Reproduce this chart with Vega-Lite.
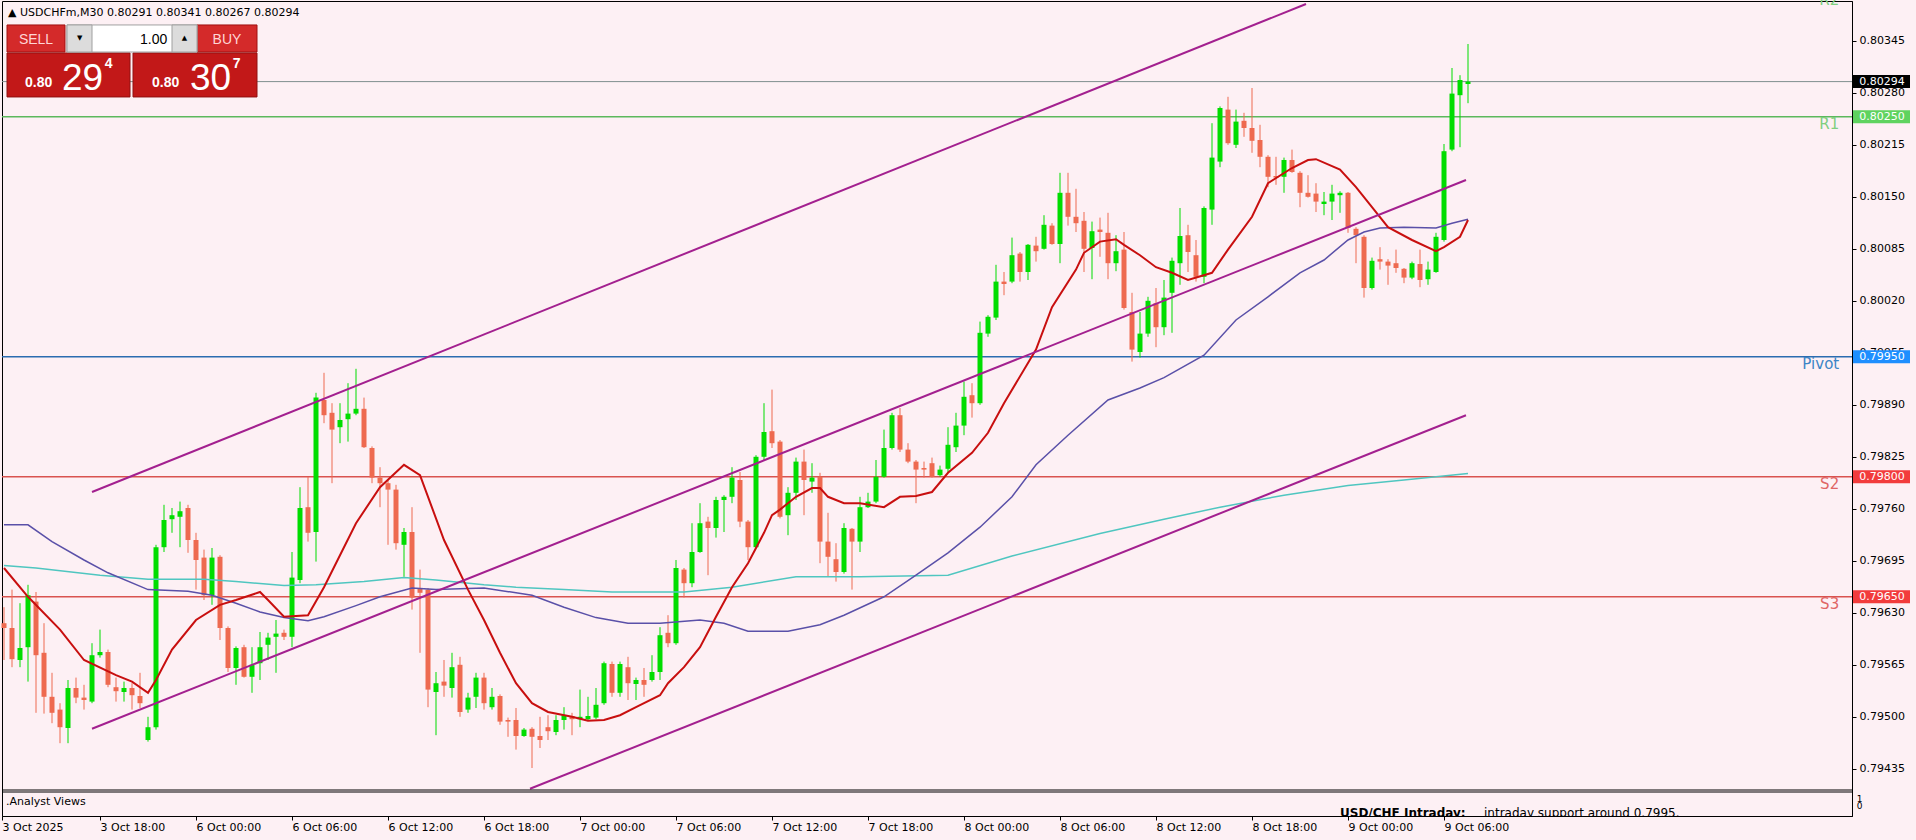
{
"$schema": "https://vega.github.io/schema/vega-lite/v6.json",
"autosize": {"type": "none"},
"width": 1850,
"height": 815,
"padding": {"left": 2, "top": 1, "right": 64, "bottom": 24},
"background": "#fdf0f4",
"config": {"view": {"stroke": "#000000", "strokeWidth": 1}, "font": "DejaVu Sans", "scale": {"continuousPadding": 0}},
"resolve": {"scale": {"color": "independent"}},
"datasets": {
"candles": [
{"i":0,"o":0.79617,"h":0.79637,"l":0.79571,"c":0.79611},
{"i":1,"o":0.79611,"h":0.79659,"l":0.79562,"c":0.79572},
{"i":2,"o":0.79571,"h":0.79642,"l":0.79562,"c":0.79586},
{"i":3,"o":0.79587,"h":0.79665,"l":0.79544,"c":0.79652},
{"i":4,"o":0.79644,"h":0.79656,"l":0.79505,"c":0.79577},
{"i":5,"o":0.7958,"h":0.79617,"l":0.79504,"c":0.79525},
{"i":6,"o":0.79525,"h":0.79555,"l":0.79492,"c":0.79505},
{"i":7,"o":0.79509,"h":0.79517,"l":0.79467,"c":0.79487},
{"i":8,"o":0.79486,"h":0.79546,"l":0.79467,"c":0.79536},
{"i":9,"o":0.79536,"h":0.79549,"l":0.79517,"c":0.79524},
{"i":10,"o":0.79524,"h":0.7954,"l":0.79509,"c":0.79521},
{"i":11,"o":0.79519,"h":0.79592,"l":0.79517,"c":0.79577},
{"i":12,"o":0.79577,"h":0.79609,"l":0.79574,"c":0.79581},
{"i":13,"o":0.79581,"h":0.79584,"l":0.79537,"c":0.7954},
{"i":14,"o":0.79537,"h":0.79549,"l":0.79519,"c":0.79532},
{"i":15,"o":0.79531,"h":0.79544,"l":0.79519,"c":0.79536},
{"i":16,"o":0.79536,"h":0.79542,"l":0.79509,"c":0.79527},
{"i":17,"o":0.79526,"h":0.79555,"l":0.79511,"c":0.79517},
{"i":18,"o":0.79471,"h":0.795,"l":0.79469,"c":0.79487},
{"i":19,"o":0.79487,"h":0.79715,"l":0.79484,"c":0.79712},
{"i":20,"o":0.79712,"h":0.79765,"l":0.79706,"c":0.79746},
{"i":21,"o":0.79747,"h":0.79761,"l":0.7973,"c":0.79752},
{"i":22,"o":0.7975,"h":0.79769,"l":0.79712,"c":0.79757},
{"i":23,"o":0.79761,"h":0.79765,"l":0.79705,"c":0.79721},
{"i":24,"o":0.79721,"h":0.7973,"l":0.79659,"c":0.79696},
{"i":25,"o":0.79699,"h":0.79709,"l":0.79646,"c":0.79652},
{"i":26,"o":0.79652,"h":0.79711,"l":0.7964,"c":0.79699},
{"i":27,"o":0.797,"h":0.79702,"l":0.79596,"c":0.79611},
{"i":28,"o":0.79611,"h":0.79613,"l":0.79556,"c":0.79561},
{"i":29,"o":0.79561,"h":0.79588,"l":0.7954,"c":0.79586},
{"i":30,"o":0.79587,"h":0.7959,"l":0.79549,"c":0.7955},
{"i":31,"o":0.7955,"h":0.79587,"l":0.7953,"c":0.79565},
{"i":32,"o":0.79567,"h":0.79606,"l":0.79546,"c":0.79587},
{"i":33,"o":0.7959,"h":0.79605,"l":0.79571,"c":0.79599},
{"i":34,"o":0.796,"h":0.79621,"l":0.79555,"c":0.79604},
{"i":35,"o":0.79605,"h":0.79609,"l":0.79596,"c":0.796},
{"i":36,"o":0.796,"h":0.79706,"l":0.79587,"c":0.79674},
{"i":37,"o":0.79671,"h":0.79787,"l":0.79667,"c":0.79761},
{"i":38,"o":0.79762,"h":0.798,"l":0.79719,"c":0.7973},
{"i":39,"o":0.79731,"h":0.79905,"l":0.79694,"c":0.79899},
{"i":40,"o":0.79896,"h":0.7993,"l":0.79867,"c":0.79877},
{"i":41,"o":0.7988,"h":0.79892,"l":0.79792,"c":0.79859},
{"i":42,"o":0.79862,"h":0.79892,"l":0.79842,"c":0.79871},
{"i":43,"o":0.79872,"h":0.79917,"l":0.79844,"c":0.79879},
{"i":44,"o":0.79879,"h":0.79935,"l":0.79877,"c":0.79885},
{"i":45,"o":0.79885,"h":0.79899,"l":0.79836,"c":0.79837},
{"i":46,"o":0.79836,"h":0.79838,"l":0.79792,"c":0.79799},
{"i":47,"o":0.79799,"h":0.79812,"l":0.79762,"c":0.79792},
{"i":48,"o":0.79792,"h":0.79796,"l":0.79715,"c":0.79784},
{"i":49,"o":0.79784,"h":0.7979,"l":0.79709,"c":0.79717},
{"i":50,"o":0.79715,"h":0.79736,"l":0.79675,"c":0.79731},
{"i":51,"o":0.79731,"h":0.79762,"l":0.79634,"c":0.79649},
{"i":52,"o":0.79661,"h":0.79684,"l":0.7958,"c":0.79655},
{"i":53,"o":0.79659,"h":0.79661,"l":0.79512,"c":0.79534},
{"i":54,"o":0.79531,"h":0.79556,"l":0.79477,"c":0.79542},
{"i":55,"o":0.79544,"h":0.79571,"l":0.79525,"c":0.79539},
{"i":56,"o":0.79536,"h":0.7958,"l":0.79524,"c":0.79562},
{"i":57,"o":0.79565,"h":0.79575,"l":0.795,"c":0.79506},
{"i":58,"o":0.79509,"h":0.7953,"l":0.79505,"c":0.79524},
{"i":59,"o":0.79525,"h":0.79555,"l":0.79511,"c":0.79549},
{"i":60,"o":0.79549,"h":0.79555,"l":0.79509,"c":0.79517},
{"i":61,"o":0.79512,"h":0.79536,"l":0.79509,"c":0.79525},
{"i":62,"o":0.79526,"h":0.79528,"l":0.7949,"c":0.79494},
{"i":63,"o":0.79496,"h":0.79499,"l":0.79475,"c":0.79494},
{"i":64,"o":0.79496,"h":0.79511,"l":0.79459,"c":0.79476},
{"i":65,"o":0.79476,"h":0.79486,"l":0.79475,"c":0.79484},
{"i":66,"o":0.79485,"h":0.79487,"l":0.79436,"c":0.79475},
{"i":67,"o":0.79476,"h":0.795,"l":0.79461,"c":0.79471},
{"i":68,"o":0.79487,"h":0.79502,"l":0.79471,"c":0.79482},
{"i":69,"o":0.79481,"h":0.79502,"l":0.79477,"c":0.79496},
{"i":70,"o":0.79496,"h":0.79512,"l":0.79484,"c":0.79502},
{"i":71,"o":0.79501,"h":0.79505,"l":0.79477,"c":0.79497},
{"i":72,"o":0.79497,"h":0.79534,"l":0.79487,"c":0.795},
{"i":73,"o":0.79497,"h":0.79525,"l":0.79496,"c":0.79501},
{"i":74,"o":0.79499,"h":0.79536,"l":0.79497,"c":0.79515},
{"i":75,"o":0.79517,"h":0.79569,"l":0.79515,"c":0.79567},
{"i":76,"o":0.79566,"h":0.79569,"l":0.79525,"c":0.7953},
{"i":77,"o":0.7953,"h":0.79569,"l":0.79525,"c":0.79566},
{"i":78,"o":0.79562,"h":0.79575,"l":0.79521,"c":0.79542},
{"i":79,"o":0.79541,"h":0.79549,"l":0.79521,"c":0.79546},
{"i":80,"o":0.79546,"h":0.79561,"l":0.79525,"c":0.7954},
{"i":81,"o":0.79546,"h":0.79577,"l":0.79544,"c":0.79556},
{"i":82,"o":0.79556,"h":0.79612,"l":0.79546,"c":0.79602},
{"i":83,"o":0.79605,"h":0.79627,"l":0.79587,"c":0.79592},
{"i":84,"o":0.79592,"h":0.79696,"l":0.7959,"c":0.79686},
{"i":85,"o":0.79684,"h":0.79686,"l":0.79649,"c":0.79667},
{"i":86,"o":0.79667,"h":0.79742,"l":0.79662,"c":0.79706},
{"i":87,"o":0.79706,"h":0.79767,"l":0.79705,"c":0.79742},
{"i":88,"o":0.79744,"h":0.7975,"l":0.79677,"c":0.79736},
{"i":89,"o":0.79736,"h":0.79775,"l":0.79724,"c":0.79771},
{"i":90,"o":0.79771,"h":0.79777,"l":0.79731,"c":0.79775},
{"i":91,"o":0.79775,"h":0.79812,"l":0.79767,"c":0.79799},
{"i":92,"o":0.79796,"h":0.79806,"l":0.79737,"c":0.79744},
{"i":93,"o":0.79744,"h":0.79746,"l":0.79696,"c":0.79712},
{"i":94,"o":0.79712,"h":0.79827,"l":0.79711,"c":0.79825},
{"i":95,"o":0.79825,"h":0.79892,"l":0.79821,"c":0.79856},
{"i":96,"o":0.79857,"h":0.79909,"l":0.79836,"c":0.79842},
{"i":97,"o":0.79844,"h":0.79846,"l":0.79748,"c":0.7975},
{"i":98,"o":0.79752,"h":0.79787,"l":0.79727,"c":0.7978},
{"i":99,"o":0.7978,"h":0.79824,"l":0.79771,"c":0.79819},
{"i":100,"o":0.79819,"h":0.79834,"l":0.79752,"c":0.79796},
{"i":101,"o":0.79794,"h":0.79817,"l":0.7978,"c":0.79799},
{"i":102,"o":0.798,"h":0.79805,"l":0.79692,"c":0.79719},
{"i":103,"o":0.79719,"h":0.79755,"l":0.79675,"c":0.797},
{"i":104,"o":0.79697,"h":0.79717,"l":0.79669,"c":0.79681},
{"i":105,"o":0.79681,"h":0.79742,"l":0.79679,"c":0.79736},
{"i":106,"o":0.79735,"h":0.79736,"l":0.79659,"c":0.79719},
{"i":107,"o":0.79719,"h":0.79775,"l":0.79706,"c":0.79762},
{"i":108,"o":0.79762,"h":0.7978,"l":0.79761,"c":0.79769},
{"i":109,"o":0.79769,"h":0.79821,"l":0.79767,"c":0.798},
{"i":110,"o":0.798,"h":0.79859,"l":0.79799,"c":0.79836},
{"i":111,"o":0.79836,"h":0.7988,"l":0.79834,"c":0.79877},
{"i":112,"o":0.79877,"h":0.79886,"l":0.79831,"c":0.79834},
{"i":113,"o":0.79834,"h":0.79842,"l":0.79817,"c":0.79819},
{"i":114,"o":0.79819,"h":0.79821,"l":0.79767,"c":0.79809},
{"i":115,"o":0.79811,"h":0.79819,"l":0.79799,"c":0.79809},
{"i":116,"o":0.79817,"h":0.79824,"l":0.79799,"c":0.798},
{"i":117,"o":0.79802,"h":0.79814,"l":0.798,"c":0.79809},
{"i":118,"o":0.7981,"h":0.79862,"l":0.79806,"c":0.7984},
{"i":119,"o":0.79837,"h":0.7988,"l":0.79831,"c":0.79864},
{"i":120,"o":0.79864,"h":0.79919,"l":0.79852,"c":0.799},
{"i":121,"o":0.79902,"h":0.79917,"l":0.79874,"c":0.79892},
{"i":122,"o":0.79892,"h":0.79994,"l":0.7989,"c":0.7998},
{"i":123,"o":0.79979,"h":0.80002,"l":0.79975,"c":0.8},
{"i":124,"o":0.79999,"h":0.80065,"l":0.79996,"c":0.80044},
{"i":125,"o":0.80044,"h":0.80056,"l":0.80027,"c":0.80041},
{"i":126,"o":0.80044,"h":0.80099,"l":0.80042,"c":0.80077},
{"i":127,"o":0.80079,"h":0.80081,"l":0.80044,"c":0.80056},
{"i":128,"o":0.80056,"h":0.80091,"l":0.80046,"c":0.8009},
{"i":129,"o":0.80089,"h":0.801,"l":0.80069,"c":0.80082},
{"i":130,"o":0.80085,"h":0.80127,"l":0.80084,"c":0.80115},
{"i":131,"o":0.80114,"h":0.80117,"l":0.8009,"c":0.80091},
{"i":132,"o":0.80091,"h":0.8018,"l":0.80067,"c":0.80155},
{"i":133,"o":0.80155,"h":0.8018,"l":0.80114,"c":0.80125},
{"i":134,"o":0.80125,"h":0.8016,"l":0.80106,"c":0.80117},
{"i":135,"o":0.8012,"h":0.80131,"l":0.80056,"c":0.80085},
{"i":136,"o":0.80086,"h":0.80119,"l":0.80047,"c":0.80107},
{"i":137,"o":0.80109,"h":0.80124,"l":0.80075,"c":0.80106},
{"i":138,"o":0.80105,"h":0.8013,"l":0.80047,"c":0.80067},
{"i":139,"o":0.80067,"h":0.80102,"l":0.80057,"c":0.80082},
{"i":140,"o":0.80084,"h":0.80106,"l":0.80009,"c":0.80011},
{"i":141,"o":0.80006,"h":0.8003,"l":0.79944,"c":0.79959},
{"i":142,"o":0.79956,"h":0.80006,"l":0.79949,"c":0.79979},
{"i":143,"o":0.79979,"h":0.80025,"l":0.79975,"c":0.8002},
{"i":144,"o":0.80017,"h":0.80036,"l":0.79962,"c":0.79987},
{"i":145,"o":0.79987,"h":0.80046,"l":0.79977,"c":0.80024},
{"i":146,"o":0.8003,"h":0.80074,"l":0.7998,"c":0.8007},
{"i":147,"o":0.80067,"h":0.80136,"l":0.8004,"c":0.80101},
{"i":148,"o":0.80102,"h":0.80115,"l":0.80056,"c":0.80081},
{"i":149,"o":0.80077,"h":0.80096,"l":0.80044,"c":0.8005},
{"i":150,"o":0.8005,"h":0.80138,"l":0.80042,"c":0.80136},
{"i":151,"o":0.80134,"h":0.80242,"l":0.80115,"c":0.80199},
{"i":152,"o":0.80194,"h":0.80263,"l":0.80187,"c":0.80261},
{"i":153,"o":0.80259,"h":0.80275,"l":0.80215,"c":0.80217},
{"i":154,"o":0.80215,"h":0.80259,"l":0.80211,"c":0.80244},
{"i":155,"o":0.80245,"h":0.80255,"l":0.80225,"c":0.80236},
{"i":156,"o":0.80236,"h":0.80286,"l":0.80205,"c":0.8022},
{"i":157,"o":0.80221,"h":0.8024,"l":0.80187,"c":0.802},
{"i":158,"o":0.802,"h":0.80202,"l":0.80162,"c":0.80175},
{"i":159,"o":0.80176,"h":0.802,"l":0.80165,"c":0.80174},
{"i":160,"o":0.80175,"h":0.80199,"l":0.80155,"c":0.80196},
{"i":161,"o":0.80196,"h":0.80209,"l":0.8018,"c":0.80181},
{"i":162,"o":0.8018,"h":0.80182,"l":0.80137,"c":0.80155},
{"i":163,"o":0.80155,"h":0.80177,"l":0.80149,"c":0.8015},
{"i":164,"o":0.80154,"h":0.80167,"l":0.80131,"c":0.80144},
{"i":165,"o":0.80141,"h":0.80156,"l":0.80127,"c":0.80144},
{"i":166,"o":0.80144,"h":0.80165,"l":0.80121,"c":0.80154},
{"i":167,"o":0.80152,"h":0.80157,"l":0.8013,"c":0.80155},
{"i":168,"o":0.80155,"h":0.80156,"l":0.80105,"c":0.80111},
{"i":169,"o":0.8011,"h":0.80112,"l":0.80067,"c":0.80102},
{"i":170,"o":0.801,"h":0.80102,"l":0.80024,"c":0.80036},
{"i":171,"o":0.80036,"h":0.80074,"l":0.80034,"c":0.8007},
{"i":172,"o":0.80072,"h":0.80087,"l":0.80059,"c":0.80069},
{"i":173,"o":0.80069,"h":0.80072,"l":0.8004,"c":0.80064},
{"i":174,"o":0.80067,"h":0.80084,"l":0.80055,"c":0.80061},
{"i":175,"o":0.8006,"h":0.80061,"l":0.80042,"c":0.80049},
{"i":176,"o":0.80049,"h":0.80069,"l":0.80047,"c":0.80067},
{"i":177,"o":0.80066,"h":0.80084,"l":0.80037,"c":0.80046},
{"i":178,"o":0.80047,"h":0.80069,"l":0.8004,"c":0.80059},
{"i":179,"o":0.80056,"h":0.80105,"l":0.80055,"c":0.801},
{"i":180,"o":0.80096,"h":0.80216,"l":0.80094,"c":0.80207},
{"i":181,"o":0.80209,"h":0.80311,"l":0.80207,"c":0.80279},
{"i":182,"o":0.80277,"h":0.80302,"l":0.80212,"c":0.80296},
{"i":183,"o":0.80291,"h":0.80341,"l":0.80267,"c":0.80294}
],
"ma": [
{"s":"fast","i":0,"v":0.79686},{"s":"fast","i":3,"v":0.7965},{"s":"fast","i":7,"v":0.79609},{"s":"fast","i":10,"v":0.79571},{"s":"fast","i":14,"v":0.79552},{"s":"fast","i":16,"v":0.79544},{"s":"fast","i":18,"v":0.7953},{"s":"fast","i":19,"v":0.79546},{"s":"fast","i":21,"v":0.79584},{"s":"fast","i":24,"v":0.79621},{"s":"fast","i":27,"v":0.7964},{"s":"fast","i":29,"v":0.79646},{"s":"fast","i":32,"v":0.79656},{"s":"fast","i":33,"v":0.79646},{"s":"fast","i":35,"v":0.79625},{"s":"fast","i":38,"v":0.79627},{"s":"fast","i":40,"v":0.79662},{"s":"fast","i":44,"v":0.79742},{"s":"fast","i":47,"v":0.79787},{"s":"fast","i":50,"v":0.79815},{"s":"fast","i":52,"v":0.79802},{"s":"fast","i":55,"v":0.79721},{"s":"fast","i":58,"v":0.79659},{"s":"fast","i":60,"v":0.79621},{"s":"fast","i":62,"v":0.7958},{"s":"fast","i":64,"v":0.79542},{"s":"fast","i":66,"v":0.79517},{"s":"fast","i":68,"v":0.79506},{"s":"fast","i":71,"v":0.795},{"s":"fast","i":73,"v":0.79495},{"s":"fast","i":75,"v":0.79496},{"s":"fast","i":77,"v":0.79502},{"s":"fast","i":79,"v":0.79512},{"s":"fast","i":82,"v":0.79527},{"s":"fast","i":83,"v":0.79542},{"s":"fast","i":85,"v":0.79562},{"s":"fast","i":87,"v":0.79587},{"s":"fast","i":89,"v":0.79625},{"s":"fast","i":91,"v":0.79662},{"s":"fast","i":93,"v":0.79692},{"s":"fast","i":95,"v":0.7973},{"s":"fast","i":96,"v":0.79752},{"s":"fast","i":97,"v":0.79759},{"s":"fast","i":99,"v":0.79775},{"s":"fast","i":101,"v":0.79786},{"s":"fast","i":102,"v":0.79786},{"s":"fast","i":103,"v":0.79775},{"s":"fast","i":105,"v":0.79767},{"s":"fast","i":107,"v":0.79767},{"s":"fast","i":110,"v":0.79762},{"s":"fast","i":112,"v":0.79775},{"s":"fast","i":114,"v":0.79776},{"s":"fast","i":116,"v":0.79781},{"s":"fast","i":118,"v":0.79805},{"s":"fast","i":121,"v":0.7983},{"s":"fast","i":123,"v":0.79855},{"s":"fast","i":125,"v":0.79892},{"s":"fast","i":129,"v":0.79959},{"s":"fast","i":131,"v":0.80012},{"s":"fast","i":134,"v":0.80059},{"s":"fast","i":135,"v":0.8008},{"s":"fast","i":137,"v":0.80094},{"s":"fast","i":139,"v":0.80097},{"s":"fast","i":140,"v":0.8009},{"s":"fast","i":142,"v":0.80077},{"s":"fast","i":144,"v":0.80062},{"s":"fast","i":146,"v":0.80055},{"s":"fast","i":148,"v":0.80046},{"s":"fast","i":151,"v":0.80055},{"s":"fast","i":153,"v":0.80084},{"s":"fast","i":156,"v":0.80125},{"s":"fast","i":158,"v":0.80167},{"s":"fast","i":161,"v":0.80186},{"s":"fast","i":163,"v":0.80196},{"s":"fast","i":164,"v":0.80197},{"s":"fast","i":167,"v":0.80184},{"s":"fast","i":169,"v":0.80162},{"s":"fast","i":171,"v":0.80137},{"s":"fast","i":173,"v":0.80112},{"s":"fast","i":176,"v":0.80096},{"s":"fast","i":179,"v":0.80082},{"s":"fast","i":180,"v":0.80087},{"s":"fast","i":182,"v":0.801},{"s":"fast","i":183,"v":0.80121},
{"s":"mid","i":0,"v":0.7974},{"s":"mid","i":3,"v":0.7974},{"s":"mid","i":6,"v":0.79719},{"s":"mid","i":10,"v":0.79696},{"s":"mid","i":13,"v":0.7968},{"s":"mid","i":18,"v":0.79659},{"s":"mid","i":23,"v":0.79657},{"s":"mid","i":26,"v":0.79652},{"s":"mid","i":29,"v":0.79642},{"s":"mid","i":32,"v":0.79631},{"s":"mid","i":35,"v":0.79624},{"s":"mid","i":38,"v":0.7962},{"s":"mid","i":40,"v":0.79625},{"s":"mid","i":44,"v":0.79639},{"s":"mid","i":47,"v":0.7965},{"s":"mid","i":51,"v":0.79661},{"s":"mid","i":54,"v":0.79659},{"s":"mid","i":60,"v":0.79661},{"s":"mid","i":66,"v":0.79652},{"s":"mid","i":70,"v":0.79637},{"s":"mid","i":74,"v":0.79624},{"s":"mid","i":78,"v":0.79617},{"s":"mid","i":82,"v":0.79617},{"s":"mid","i":87,"v":0.79621},{"s":"mid","i":90,"v":0.79617},{"s":"mid","i":93,"v":0.79607},{"s":"mid","i":98,"v":0.79607},{"s":"mid","i":102,"v":0.79615},{"s":"mid","i":105,"v":0.79627},{"s":"mid","i":110,"v":0.7965},{"s":"mid","i":114,"v":0.79677},{"s":"mid","i":118,"v":0.79705},{"s":"mid","i":122,"v":0.79737},{"s":"mid","i":126,"v":0.79775},{"s":"mid","i":129,"v":0.79815},{"s":"mid","i":133,"v":0.79852},{"s":"mid","i":138,"v":0.79896},{"s":"mid","i":142,"v":0.79911},{"s":"mid","i":145,"v":0.79924},{"s":"mid","i":150,"v":0.79952},{"s":"mid","i":154,"v":0.79996},{"s":"mid","i":158,"v":0.80025},{"s":"mid","i":162,"v":0.80055},{"s":"mid","i":165,"v":0.80071},{"s":"mid","i":168,"v":0.80096},{"s":"mid","i":170,"v":0.80106},{"s":"mid","i":172,"v":0.80111},{"s":"mid","i":175,"v":0.80112},{"s":"mid","i":179,"v":0.80111},{"s":"mid","i":181,"v":0.80117},{"s":"mid","i":183,"v":0.80122},
{"s":"slow","i":0,"v":0.79689},{"s":"slow","i":4,"v":0.79686},{"s":"slow","i":12,"v":0.79677},{"s":"slow","i":18,"v":0.79672},{"s":"slow","i":25,"v":0.79672},{"s":"slow","i":29,"v":0.79669},{"s":"slow","i":35,"v":0.79664},{"s":"slow","i":39,"v":0.79665},{"s":"slow","i":45,"v":0.79669},{"s":"slow","i":50,"v":0.79674},{"s":"slow","i":54,"v":0.79671},{"s":"slow","i":60,"v":0.79665},{"s":"slow","i":64,"v":0.79662},{"s":"slow","i":70,"v":0.79659},{"s":"slow","i":76,"v":0.79656},{"s":"slow","i":85,"v":0.79656},{"s":"slow","i":91,"v":0.79662},{"s":"slow","i":99,"v":0.79675},{"s":"slow","i":107,"v":0.79675},{"s":"slow","i":118,"v":0.79677},{"s":"slow","i":126,"v":0.79701},{"s":"slow","i":137,"v":0.79729},{"s":"slow","i":145,"v":0.79747},{"s":"slow","i":152,"v":0.79762},{"s":"slow","i":160,"v":0.79777},{"s":"slow","i":168,"v":0.79789},{"s":"slow","i":175,"v":0.79796},{"s":"slow","i":183,"v":0.79804}
],
"channel": [
{"line":"upper","i1":11,"p1":0.79781,"i2":162.75,"p2":0.80391},
{"line":"middle","i1":11,"p1":0.79485,"i2":182.75,"p2":0.80171},
{"line":"lower","i1":65.75,"p1":0.7941,"i2":182.75,"p2":0.79877}
],
"levels": [
{"name":"R2","price":0.80405},
{"name":"R1","price":0.8025},
{"name":"Pivot","price":0.7995},
{"name":"S2","price":0.798},
{"name":"S3","price":0.7965}
],
"tags": [
{"name":"Bid","price":0.80294},
{"name":"R1","price":0.8025},
{"name":"Pivot","price":0.7995},
{"name":"S2","price":0.798},
{"name":"S3","price":0.7965}
]
},
"layer": [
{
"data": {"name": "levels"},
"mark": {"type": "rule", "strokeWidth": 1.5},
"encoding": {
"y": {"field": "price", "type": "quantitative"},
"color": {"field": "name", "type": "nominal", "legend": null, "scale": {"domain": ["R2","R1","Pivot","S2","S3"], "range": ["#5cb85c","#5cb85c","#2b6cb0","#d9534f","#d9534f"]}}
}
},
{
"data": {"values": [{"price": 0.80294}]},
"mark": {"type": "rule", "strokeWidth": 1, "color": "#7f8f8f"},
"encoding": {"y": {"field": "price", "type": "quantitative"}}
},
{
"data": {"name": "candles"},
"mark": {"type": "rule", "strokeWidth": 1},
"encoding": {
"x": {"field": "i", "type": "quantitative", "scale": {"domain": [-0.25, 231], "nice": false, "zero": false, "padding": 0},
"axis": {"title": null, "grid": false, "values": [-0.25,12,24,36,48,60,72,84,96,108,120,132,144,156,168,180],
"labelExpr": "['3 Oct 2025','3 Oct 18:00','6 Oct 00:00','6 Oct 06:00','6 Oct 12:00','6 Oct 18:00','7 Oct 00:00','7 Oct 06:00','7 Oct 12:00','7 Oct 18:00','8 Oct 00:00','8 Oct 06:00','8 Oct 12:00','8 Oct 18:00','9 Oct 00:00','9 Oct 06:00'][round((datum.value+0.25)/12)]",
"labelAlign": "left", "labelFont": "DejaVu Sans", "labelFontSize": 11, "labelColor": "#000000", "labelPadding": 1, "tickSize": 4, "tickColor": "#000000", "domainColor": "#000000", "labelFlush": false, "labelOverlap": false, "labelBound": false}},
"y": {"field": "l", "type": "quantitative", "scale": {"domain": [0.79376, 0.8039475], "nice": false, "zero": false, "padding": 0},
"axis": {"title": null, "orient": "right", "grid": false, "values": [0.80345,0.8028,0.80215,0.8015,0.80085,0.8002,0.79955,0.7989,0.79825,0.7976,0.79695,0.7963,0.79565,0.795,0.79435],
"format": ".5f", "labelFont": "DejaVu Sans", "labelFontSize": 11, "labelColor": "#000000", "labelPadding": 3, "tickSize": 4, "tickColor": "#000000", "domainColor": "#000000", "labelOverlap": false, "labelFlush": false}},
"y2": {"field": "h"},
"color": {"condition": {"test": "datum.c >= datum.o", "value": "#00dd00"}, "value": "#ee6a50"}
}
},
{
"data": {"name": "candles"},
"mark": {"type": "bar", "width": 5},
"encoding": {
"x": {"field": "i", "type": "quantitative", "scale": {"padding": 0}},
"y": {"field": "o", "type": "quantitative"},
"y2": {"field": "c"},
"color": {"condition": {"test": "datum.c >= datum.o", "value": "#00dd00"}, "value": "#ee6a50"}
}
},
{
"data": {"name": "ma"},
"transform": [{"filter": "datum.s == 'slow'"}],
"mark": {"type": "line", "color": "#4fc6c0", "strokeWidth": 1.5},
"encoding": {"x": {"field": "i", "type": "quantitative"}, "y": {"field": "v", "type": "quantitative"}}
},
{
"data": {"name": "ma"},
"transform": [{"filter": "datum.s == 'mid'"}],
"mark": {"type": "line", "color": "#5a50a8", "strokeWidth": 1.5},
"encoding": {"x": {"field": "i", "type": "quantitative"}, "y": {"field": "v", "type": "quantitative"}}
},
{
"data": {"name": "ma"},
"transform": [{"filter": "datum.s == 'fast'"}],
"mark": {"type": "line", "color": "#c80f0f", "strokeWidth": 2},
"encoding": {"x": {"field": "i", "type": "quantitative"}, "y": {"field": "v", "type": "quantitative"}}
},
{
"data": {"name": "channel"},
"mark": {"type": "rule", "color": "#a3208f", "strokeWidth": 2},
"encoding": {
"x": {"field": "i1", "type": "quantitative"}, "x2": {"field": "i2"},
"y": {"field": "p1", "type": "quantitative"}, "y2": {"field": "p2"}
}
},
{
"data": {"name": "levels"},
"mark": {"type": "text", "align": "right", "baseline": "top", "fontSize": 15, "dy": 0},
"encoding": {
"x": {"datum": 229.4, "type": "quantitative"},
"y": {"field": "price", "type": "quantitative"},
"text": {"field": "name"},
"color": {"field": "name", "type": "nominal", "legend": null, "scale": {"domain": ["R2","R1","Pivot","S2","S3"], "range": ["#7fcf7f","#7fcf7f","#3d85c6","#e06666","#e06666"]}}
}
},
{
"data": {"name": "tags"},
"mark": {"type": "bar", "height": 13},
"encoding": {
"x": {"datum": 231.125, "type": "quantitative"}, "x2": {"datum": 238.25},
"y": {"field": "price", "type": "quantitative", "scale": {"padding": 0}},
"color": {"field": "name", "type": "nominal", "legend": null, "scale": {"domain": ["Bid","R1","Pivot","S2","S3"], "range": ["#000000","#5fd35f","#1e8fff","#f23c3c","#f23c3c"]}}
}
},
{
"data": {"name": "tags"},
"mark": {"type": "text", "align": "left", "baseline": "middle", "fontSize": 11, "color": "#ffffff"},
"encoding": {
"x": {"datum": 231.9, "type": "quantitative"},
"y": {"field": "price", "type": "quantitative"},
"text": {"field": "price", "type": "quantitative", "format": ".5f"}
}
},
{
"data": {"values": [{"p": 0.794085}, {"p": 0.79406}]},
"mark": {"type": "rule", "color": "#000000", "strokeWidth": 1},
"encoding": {"y": {"field": "p", "type": "quantitative"}}
},
{
"data": {"values": [{"t": ".Analyst Views"}]},
"mark": {"type": "text", "align": "left", "baseline": "middle", "fontSize": 11, "color": "#000000"},
"encoding": {"x": {"datum": 0.25, "type": "quantitative"}, "y": {"datum": 0.79393, "type": "quantitative"}, "text": {"field": "t"}}
},
{
"data": {"values": [{"t": "1", "p": 0.79397}, {"t": "0", "p": 0.79389}]},
"mark": {"type": "text", "align": "left", "baseline": "middle", "fontSize": 9, "color": "#000000"},
"encoding": {"x": {"datum": 231.6, "type": "quantitative"}, "y": {"field": "p", "type": "quantitative"}, "text": {"field": "t"}}
},
{
"data": {"values": [{"t": "USD/CHF Intraday:"}]},
"mark": {"type": "text", "align": "left", "baseline": "alphabetic", "fontSize": 12, "fontWeight": "bold", "color": "#000000", "clip": true},
"encoding": {"x": {"datum": 167, "type": "quantitative"}, "y": {"datum": 0.793747, "type": "quantitative"}, "text": {"field": "t"}}
},
{
"data": {"values": [{"t": "intraday support around 0.7995."}]},
"mark": {"type": "text", "align": "left", "baseline": "alphabetic", "fontSize": 12, "color": "#000000", "clip": true},
"encoding": {"x": {"datum": 185, "type": "quantitative"}, "y": {"datum": 0.793747, "type": "quantitative"}, "text": {"field": "t"}}
},
{
"data": {"values": [{"t": "▲ USDCHFm,M30  0.80291 0.80341 0.80267 0.80294"}]},
"mark": {"type": "text", "align": "left", "baseline": "middle", "fontSize": 11, "color": "#000000"},
"encoding": {"x": {"datum": 0.5, "type": "quantitative"}, "y": {"datum": 0.8038, "type": "quantitative"}, "text": {"field": "t"}}
},
{
"data": {"values": [{"k": "sell", "a": 0.375, "b": 7.625, "top": 0.803648, "bot": 0.80331}, {"k": "buy", "a": 24.125, "b": 31.625, "top": 0.803648, "bot": 0.80331}]},
"mark": {"type": "rect", "color": "#d42a2a", "stroke": "#a01010", "strokeWidth": 1},
"encoding": {"x": {"field": "a", "type": "quantitative"}, "x2": {"field": "b"}, "y": {"field": "top", "type": "quantitative"}, "y2": {"field": "bot"}}
},
{
"data": {"values": [{"k": "bidpanel", "a": 0.375, "b": 15.75, "top": 0.803298, "bot": 0.802748}, {"k": "askpanel", "a": 16.125, "b": 31.625, "top": 0.803298, "bot": 0.802748}]},
"mark": {"type": "rect", "color": "#c21818", "stroke": "#901010", "strokeWidth": 1},
"encoding": {"x": {"field": "a", "type": "quantitative"}, "x2": {"field": "b"}, "y": {"field": "top", "type": "quantitative"}, "y2": {"field": "bot"}}
},
{
"data": {"values": [{"k": "lot", "a": 7.875, "b": 24.125, "top": 0.803648, "bot": 0.80331}]},
"mark": {"type": "rect", "color": "#ffffff", "stroke": "#a0a0a0", "strokeWidth": 1},
"encoding": {"x": {"field": "a", "type": "quantitative"}, "x2": {"field": "b"}, "y": {"field": "top", "type": "quantitative"}, "y2": {"field": "bot"}}
},
{
"data": {"values": [{"k": "down", "a": 7.875, "b": 11, "top": 0.803648, "bot": 0.80331}, {"k": "up", "a": 21, "b": 24.125, "top": 0.803648, "bot": 0.80331}]},
"mark": {"type": "rect", "color": "#dcdcdc", "stroke": "#a0a0a0", "strokeWidth": 1},
"encoding": {"x": {"field": "a", "type": "quantitative"}, "x2": {"field": "b"}, "y": {"field": "top", "type": "quantitative"}, "y2": {"field": "bot"}}
},
{
"data": {"values": [{"t": "SELL", "x": 4}, {"t": "BUY", "x": 27.875}]},
"mark": {"type": "text", "align": "center", "baseline": "alphabetic", "fontSize": 14, "font": "Liberation Sans", "color": "#ffd6d6"},
"encoding": {"x": {"field": "x", "type": "quantitative"}, "y": {"datum": 0.80341, "type": "quantitative"}, "text": {"field": "t"}}
},
{
"data": {"values": [{"t": "1.00"}]},
"mark": {"type": "text", "align": "right", "baseline": "alphabetic", "fontSize": 14, "font": "Liberation Sans", "color": "#000000"},
"encoding": {"x": {"datum": 20.4, "type": "quantitative"}, "y": {"datum": 0.80341, "type": "quantitative"}, "text": {"field": "t"}}
},
{
"data": {"values": [{"t": "▼", "x": 9.45}, {"t": "▲", "x": 22.55}]},
"mark": {"type": "text", "align": "center", "baseline": "middle", "fontSize": 7, "color": "#000000"},
"encoding": {"x": {"field": "x", "type": "quantitative"}, "y": {"datum": 0.803485, "type": "quantitative"}, "text": {"field": "t"}}
},
{
"data": {"values": [{"t": "0.80", "x": 2.625}, {"t": "0.80", "x": 18.5}]},
"mark": {"type": "text", "align": "left", "baseline": "alphabetic", "fontSize": 14, "fontWeight": "bold", "font": "Liberation Sans", "color": "#ffffff"},
"encoding": {"x": {"field": "x", "type": "quantitative"}, "y": {"datum": 0.802873, "type": "quantitative"}, "text": {"field": "t"}}
},
{
"data": {"values": [{"t": "29", "x": 7.25}, {"t": "30", "x": 23.25}]},
"mark": {"type": "text", "align": "left", "baseline": "alphabetic", "fontSize": 37, "font": "Liberation Sans", "color": "#ffffff"},
"encoding": {"x": {"field": "x", "type": "quantitative"}, "y": {"datum": 0.802835, "type": "quantitative"}, "text": {"field": "t"}}
},
{
"data": {"values": [{"t": "4", "x": 12.6}, {"t": "7", "x": 28.6}]},
"mark": {"type": "text", "align": "left", "baseline": "alphabetic", "fontSize": 14, "fontWeight": "bold", "font": "Liberation Sans", "color": "#ffffff"},
"encoding": {"x": {"field": "x", "type": "quantitative"}, "y": {"datum": 0.80311, "type": "quantitative"}, "text": {"field": "t"}}
}
]
}
